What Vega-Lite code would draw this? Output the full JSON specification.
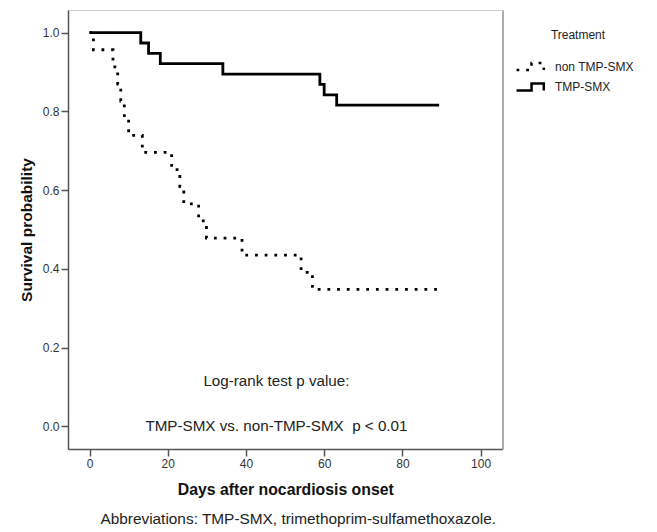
{
  "$schema": "https://vega.github.io/schema/vega-lite/v6.json",
  "width": 434.5,
  "height": 439,
  "autosize": {"type": "none"},
  "padding": {"left": 68, "top": 10, "right": 154.5, "bottom": 83},
  "background": "white",
  "config": {
    "font": "Liberation Sans",
    "view": {"stroke": "#cfcfcf", "strokeWidth": 1}
  },
  "title": {
    "text": "Abbreviations: TMP-SMX, trimethoprim-sulfamethoxazole.",
    "orient": "bottom",
    "anchor": "middle",
    "frame": "group",
    "dx": 13,
    "fontSize": 15.4,
    "fontWeight": "normal",
    "color": "#222222",
    "offset": 15
  },
  "datasets": {
    "km": [
      {"Treatment": "TMP-SMX", "day": 0, "surv": 1.0},
      {"Treatment": "TMP-SMX", "day": 13.1, "surv": 0.9737},
      {"Treatment": "TMP-SMX", "day": 15.1, "surv": 0.9474},
      {"Treatment": "TMP-SMX", "day": 18.1, "surv": 0.9211},
      {"Treatment": "TMP-SMX", "day": 34.1, "surv": 0.8947},
      {"Treatment": "TMP-SMX", "day": 58.9, "surv": 0.8684},
      {"Treatment": "TMP-SMX", "day": 60.0, "surv": 0.8421},
      {"Treatment": "TMP-SMX", "day": 63.2, "surv": 0.8158},
      {"Treatment": "TMP-SMX", "day": 89.4, "surv": 0.8158},
      {"Treatment": "non TMP-SMX", "day": 0, "surv": 1.0},
      {"Treatment": "non TMP-SMX", "day": 1.0, "surv": 0.9565},
      {"Treatment": "non TMP-SMX", "day": 6.0, "surv": 0.913},
      {"Treatment": "non TMP-SMX", "day": 7.2, "surv": 0.8696},
      {"Treatment": "non TMP-SMX", "day": 8.0, "surv": 0.8261},
      {"Treatment": "non TMP-SMX", "day": 8.9, "surv": 0.7826},
      {"Treatment": "non TMP-SMX", "day": 10.0, "surv": 0.7391},
      {"Treatment": "non TMP-SMX", "day": 13.5, "surv": 0.6957},
      {"Treatment": "non TMP-SMX", "day": 21.0, "surv": 0.6522},
      {"Treatment": "non TMP-SMX", "day": 23.1, "surv": 0.6087},
      {"Treatment": "non TMP-SMX", "day": 24.1, "surv": 0.5652},
      {"Treatment": "non TMP-SMX", "day": 27.9, "surv": 0.5217},
      {"Treatment": "non TMP-SMX", "day": 29.9, "surv": 0.4783},
      {"Treatment": "non TMP-SMX", "day": 39.0, "surv": 0.4348},
      {"Treatment": "non TMP-SMX", "day": 54.1, "surv": 0.3913},
      {"Treatment": "non TMP-SMX", "day": 57.0, "surv": 0.3478},
      {"Treatment": "non TMP-SMX", "day": 89.5, "surv": 0.3478}
    ],
    "notes": [
      {"day": 47.8, "surv": 0.116, "label": "Log-rank test p value:"},
      {"day": 47.8, "surv": 0.0, "label": "TMP-SMX vs. non-TMP-SMX \u00a0p < 0.01"}
    ]
  },
  "layer": [
    {
      "data": {"name": "km"},
      "mark": {"type": "line", "interpolate": "step-after", "color": "black", "strokeWidth": 2.8, "strokeCap": "butt"},
      "encoding": {
        "x": {
          "field": "day", "type": "quantitative",
          "scale": {"domain": [-5.5, 105.6], "nice": false, "zero": false},
          "axis": {
            "values": [0, 20, 40, 60, 80, 100],
            "title": "Days after nocardiosis onset",
            "titleFontSize": 15.8, "titleFontWeight": "bold", "titleColor": "#111111", "titlePadding": 13,
            "labelFontSize": 12, "labelColor": "#333333", "labelPadding": 2, "labelFlush": false,
            "tickSize": 7, "tickColor": "#555555", "tickWidth": 1.5,
            "domainColor": "#555555", "domainWidth": 1.5, "grid": false
          }
        },
        "y": {
          "field": "surv", "type": "quantitative",
          "scale": {"domain": [-0.0575, 1.0575], "nice": false, "zero": false},
          "axis": {
            "values": [0, 0.2, 0.4, 0.6, 0.8, 1.0],
            "format": ".1f",
            "title": "Survival probability",
            "titleFontSize": 15.5, "titleFontWeight": "bold", "titleColor": "#111111", "titlePadding": 8,
            "labelFontSize": 12, "labelColor": "#333333", "labelPadding": 2,
            "tickSize": 7, "tickColor": "#555555", "tickWidth": 1.5,
            "domainColor": "#555555", "domainWidth": 1.5, "grid": false
          }
        },
        "strokeDash": {
          "field": "Treatment", "type": "nominal",
          "scale": {"domain": ["non TMP-SMX", "TMP-SMX"], "range": [[2.8, 6.9], [1, 0]]},
          "legend": {
            "orient": "none", "legendX": 454, "legendY": 20,
            "title": "Treatment", "titleAnchor": "middle",
            "titleFontSize": 12, "titleFontWeight": "normal", "titleColor": "#222222", "titlePadding": 16,
            "labelFontSize": 12, "labelColor": "#222222", "labelOffset": 16,
            "symbolType": "M-2,0.5H0.15V-0.5H1.9V0.5",
            "symbolSize": 196,
            "symbolStrokeWidth": 2.5, "symbolStrokeColor": "black", "symbolFillColor": "transparent",
            "rowPadding": 3.5, "padding": 0
          }
        }
      }
    },
    {
      "data": {"name": "notes"},
      "mark": {"type": "text", "fontSize": 15.2, "color": "#222222", "align": "center", "baseline": "middle"},
      "encoding": {
        "x": {"field": "day", "type": "quantitative", "scale": {"domain": [-5.5, 105.6], "nice": false, "zero": false}},
        "y": {
          "field": "surv", "type": "quantitative",
          "scale": {"domain": [-0.0575, 1.0575], "nice": false, "zero": false},
          "axis": {"orient": "right", "labels": false, "ticks": false, "title": null, "grid": false, "domainColor": "#999999", "domainWidth": 1.5}
        },
        "text": {"field": "label", "type": "nominal"}
      }
    }
  ],
  "resolve": {"axis": {"y": "independent"}}
}
